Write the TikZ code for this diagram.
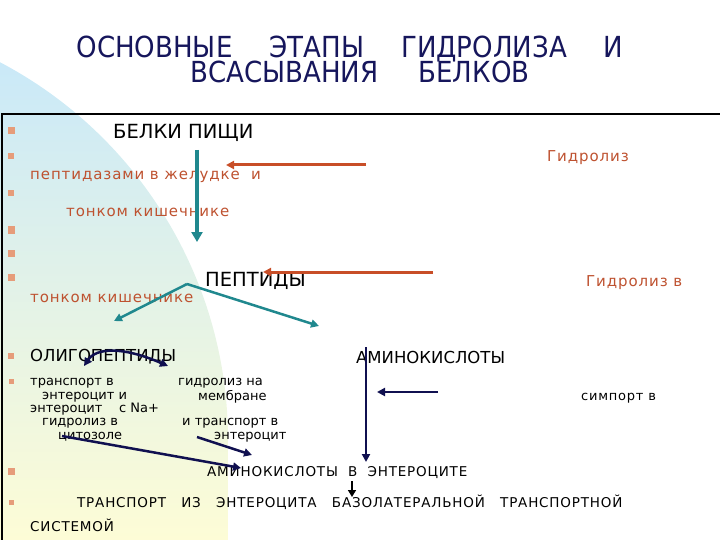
\documentclass[tikz,border=0pt]{standalone}
\usepackage{fontspec}
\setmainfont{DejaVu Sans}
\newfontfamily\titlefont{DejaVu Sans Condensed}
\newfontfamily\spacedfont{DejaVu Sans}[LetterSpace=6]
\usetikzlibrary{arrows.meta,positioning}
\definecolor{bgBlue}{RGB}{202,233,248}
\definecolor{bgGreen}{RGB}{226,243,230}
\definecolor{bgYellow}{RGB}{253,252,214}
\definecolor{titleNavy}{RGB}{22,22,92}
\definecolor{hydroRed}{RGB}{190,82,48}
\definecolor{arrowRed}{RGB}{200,78,40}
\definecolor{tealC}{RGB}{32,136,142}
\definecolor{navyC}{RGB}{16,16,80}
\definecolor{bulletC}{RGB}{230,156,122}

\begin{document}
\begin{tikzpicture}[x=1pt,y=-1pt,
    title/.style={anchor=base, text=titleNavy, font=\titlefont\fontsize{29}{32}\selectfont, inner sep=0pt},
    head/.style={anchor=west, inner sep=0pt, font=\fontsize{19.5}{21}\selectfont},
    big/.style={anchor=west, inner sep=0pt, font=\fontsize{16.5}{18}\selectfont},
    hydro/.style={anchor=west, inner sep=0pt, text=hydroRed, font=\spacedfont\fontsize{15}{17}\selectfont},
    small/.style={anchor=west, inner sep=0pt, font=\fontsize{13}{14}\selectfont},
    caps/.style={anchor=west, inner sep=0pt, font=\spacedfont\fontsize{13.5}{15}\selectfont},
    tealbold/.style={draw=tealC, line width=4pt, -{Triangle[length=10pt,width=11pt]}},
    tealthin/.style={draw=tealC, line width=2.5pt, -{Triangle[length=8pt,width=8pt]}},
    redarrow/.style={draw=arrowRed, line width=3pt, -{Triangle[length=8pt,width=8pt]}},
    navyarrow/.style={draw=navyC, line width=2.5pt, -{Triangle[length=8pt,width=8pt]}}]
  \useasboundingbox (0,0) rectangle (720,540);
  \begin{scope}
    \clip (0,0) rectangle (720,540);
    % background quarter disc
    \shade[top color=bgBlue, middle color=bgGreen, bottom color=bgYellow]
      (0,540) -- (228,540) -- (228,440) arc[start angle=0, end angle=-62.2, radius=427] -- cycle;
    % frame of the text area
    \draw[line width=1.2pt] (2,545) -- (2,114) -- (725,114);
  \end{scope}
  % title
  \node[title] (titleA) at (350,58) {ОСНОВНЫЕ\hspace{37pt}ЭТАПЫ\hspace{37pt}ГИДРОЛИЗА\hspace{37pt}И};
  \node[title] (titleB) at (360,83) {ВСАСЫВАНИЯ\hspace{40pt}БЕЛКОВ};
  % bullets
  \foreach \y/\s in {131/7, 156/6, 193/6, 230/7, 253/7, 277/7, 356/6, 381/5, 471/7, 502/5}
    \fill[bulletC] (11-\s/2,\y-\s/2) rectangle ++(\s,\s);
  % main labels
  \node[head] (belki) at (113,133) {БЕЛКИ ПИЩИ};
  \node[head] (peptidy) at (205,281) {ПЕПТИДЫ};
  \node[big] (oligo) at (30,357) {ОЛИГОПЕПТИДЫ};
  \node[big] (amino) at (356,357) {АМИНОКИСЛОТЫ};
  % hydrolysis notes
  \node[hydro] (hydroA) at (547,158) {Гидролиз};
  \node[hydro] (pepsin) at (30,177) {пептидазами в желудке\ \ и};
  \node[hydro] (gutA) at (66,212) {тонком кишечнике};
  \node[hydro] (hydroB) at (586,283) {Гидролиз в};
  \node[hydro] (gutB) at (30,298) {тонком кишечнике};
  % small notes
  \node[small] (trA) at (30,383) {транспорт в};
  \node[small] (trB) at (42,397) {энтероцит и};
  \node[small] (trC) at (30,409) {энтероцит\ \ \ \ с Na+};
  \node[small] (trD) at (42,423) {гидролиз в};
  \node[small] (trE) at (58,437) {цитозоле};
  \node[small] (memA) at (178,383) {гидролиз на};
  \node[small] (memB) at (198,397) {мембране};
  \node[small] (memC) at (182,423) {и транспорт в};
  \node[small] (memD) at (214,437) {энтероцит};
  \node[small, font=\spacedfont\fontsize{13}{14}\selectfont] (symp) at (581,398) {симпорт в};
  \node[caps] (aminoEnt) at (207,473) {АМИНОКИСЛОТЫ\ \ В\ \ ЭНТЕРОЦИТЕ};
  \node[caps] (basal) at (77,502) {ТРАНСПОРТ\ \ \ ИЗ\ \ \ ЭНТЕРОЦИТА\ \ \ БАЗОЛАТЕРАЛЬНОЙ\ \ \ ТРАНСПОРТНОЙ};
  \node[caps] (system) at (30,525) {СИСТЕМОЙ};
  % arrow ends
  \coordinate (foodTail) at (197,150);
  \coordinate (foodTip) at (197,242);
  \coordinate (gastTail) at (366,165);
  \coordinate (gastTip) at (226,165);
  \coordinate (intTail) at (433,272);
  \coordinate (intTip) at (263,272);
  \coordinate (split) at (187,284);
  \coordinate (oligoTip) at (114,321);
  \coordinate (aminoTip) at (319,326);
  \coordinate (arcL) at (84,366);
  \coordinate (arcR) at (168,366);
  \coordinate (cytoTail) at (62,436);
  \coordinate (cytoTip) at (241,468);
  \coordinate (membTail) at (197,437);
  \coordinate (membTip) at (252,455);
  \coordinate (aminoTop) at (366,347);
  \coordinate (aminoDown) at (366,462);
  \coordinate (sympTail) at (438,392);
  \coordinate (sympTip) at (377,392);
  \coordinate (baseTail) at (352,481);
  \coordinate (baseTip) at (352,497);
  % arrows
  \draw[tealbold] (foodTail) -- (foodTip);
  \draw[redarrow] (gastTail) -- (gastTip);
  \draw[redarrow] (intTail) -- (intTip);
  \draw[tealthin] (split) -- (oligoTip);
  \draw[tealthin] (split) -- (aminoTip);
  \draw[navyarrow, {Triangle[length=8pt,width=8pt]}-{Triangle[length=8pt,width=8pt]}]
    (arcL) .. controls (96,348) and (122,346) .. (arcR);
  \draw[navyarrow] (cytoTail) -- (cytoTip);
  \draw[navyarrow] (membTail) -- (membTip);
  \draw[navyarrow] (aminoTop) -- (aminoDown);
  \draw[navyarrow] (sympTail) -- (sympTip);
  \draw[black, line width=1.5pt, -{Triangle[length=7pt,width=8pt]}] (baseTail) -- (baseTip);
\end{tikzpicture}
\end{document}
